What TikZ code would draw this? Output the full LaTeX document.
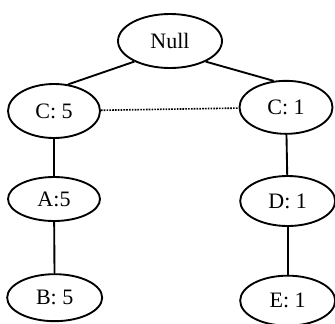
\documentclass[tikz,border=0pt]{standalone}
\usepackage{fontspec}
\setmainfont{Liberation Serif}
\usetikzlibrary{shapes.geometric}
\tikzset{
  item/.style={ellipse,draw=black,line width=1.6pt,fill=white,inner sep=0pt,font=\fontsize{18.8}{21}\selectfont},
  link/.style={line width=1.6pt,draw=black},
  nblink/.style={line width=1.4pt,draw=black,densely dotted},
}
\begin{document}
\begin{tikzpicture}
  \useasboundingbox (0,0) rectangle (10.05,-9.69);
  % root
  \node[item,minimum width=3.12cm,minimum height=1.62cm] (null) at (5.10,-1.23) {Null};
  % first level
  \node[item,minimum width=2.76cm,minimum height=1.62cm] (c5) at (1.62,-3.33) {C: 5};
  \node[item,minimum width=2.79cm,minimum height=1.59cm] (c1) at (8.58,-3.22) {C: 1};
  % second level
  \node[item,minimum width=2.76cm,minimum height=1.32cm] (a5) at (1.62,-5.97) {A:5};
  \node[item,minimum width=2.85cm,minimum height=1.50cm] (d1) at (8.63,-6.03) {D: 1};
  % leaves
  \node[item,minimum width=2.85cm,minimum height=1.41cm] (b5) at (1.64,-8.93) {B: 5};
  \node[item,minimum width=2.85cm,minimum height=1.50cm] (e1) at (8.63,-9.02) {E: 1};
  \draw[link] (null.210) -- (c5.62);
  \draw[link] (null.330) -- (c1.115);
  \draw[nblink] (c5) -- (c1);
  \draw[link] (c5) -- (a5);
  \draw[link] (c1) -- (d1);
  \draw[link] (a5) -- (b5);
  \draw[link] (d1) -- (e1);
\end{tikzpicture}
\end{document}
